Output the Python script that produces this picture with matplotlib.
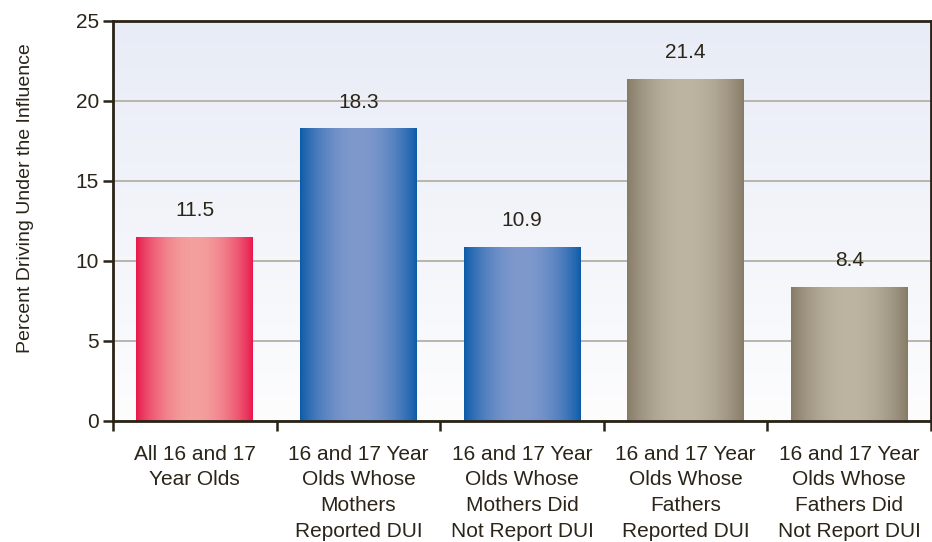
import numpy as np
import matplotlib.pyplot as plt
from matplotlib.colors import to_rgb

plt.rcParams['font.family'] = ['Liberation Sans', 'DejaVu Sans']

categories = [
    "All 16 and 17\nYear Olds",
    "16 and 17 Year\nOlds Whose\nMothers\nReported DUI",
    "16 and 17 Year\nOlds Whose\nMothers Did\nNot Report DUI",
    "16 and 17 Year\nOlds Whose\nFathers\nReported DUI",
    "16 and 17 Year\nOlds Whose\nFathers Did\nNot Report DUI",
]
values = [11.5, 18.3, 10.9, 21.4, 8.4]
value_labels = ["11.5", "18.3", "10.9", "21.4", "8.4"]
y_ticks = [0, 5, 10, 15, 20, 25]
y_label = "Percent Driving Under the Influence"

edge_colors = ["#e8164b", "#0a5aa9", "#0a5aa9", "#847a66", "#847a66"]
center_colors = ["#f4a09e", "#8099cd", "#8099cd", "#bdb4a2", "#bdb4a2"]

TEXT = "#2b2419"
SPINE = "#2a2216"

W, H = 932, 542
fig = plt.figure(figsize=(W / 100, H / 100), dpi=100)
ax = fig.add_axes([113 / W, 1 - 421 / H, (931 - 113) / W, 400 / H])

# background vertical gradient
top_c = np.array(to_rgb("#e8ecf6"))
bot_c = np.array(to_rgb("#fdfdfe"))
g = np.linspace(0, 1, 256)[:, None]
bg = top_c[None, :] * (1 - g) + bot_c[None, :] * g
bg = np.repeat(bg[:, None, :], 2, axis=1)
ax.imshow(bg, extent=[0, 1, 0, 1], transform=ax.transAxes, aspect='auto',
          zorder=0, interpolation='bilinear')

ax.set_xlim(-0.5, len(categories) - 0.5)
ax.set_ylim(0, 25)

ax.yaxis.grid(True, color="#bab5a9", linewidth=1.4, zorder=1)
ax.set_axisbelow(True)

bars = ax.bar(range(len(values)), values, width=0.715, color='none',
              edgecolor='none', zorder=2)

t = np.linspace(0, 1, 256)
prof = np.sin(np.pi * t) ** 0.8
for b, ec, cc in zip(bars, edge_colors, center_colors):
    e = np.array(to_rgb(ec)); c = np.array(to_rgb(cc))
    grad = e[None, :] * (1 - prof[:, None]) + c[None, :] * prof[:, None]
    img = np.repeat(grad[None, :, :], 2, axis=0)
    x0, y0 = b.get_x(), b.get_y()
    im = ax.imshow(img, extent=[x0, x0 + b.get_width(), y0, y0 + b.get_height()],
                   aspect='auto', zorder=3, interpolation='bilinear')
    im.set_clip_path(b)

for b, lab in zip(bars, value_labels):
    ax.annotate(lab, (b.get_x() + b.get_width() / 2, b.get_height()),
                xytext=(0, 12), textcoords='offset points', ha='center',
                va='bottom', fontsize=15, color=TEXT, zorder=5)

ax.set_xlim(-0.5, len(categories) - 0.5)
ax.set_ylim(0, 25)

for s in ax.spines.values():
    s.set_color(SPINE)
    s.set_linewidth(2.0)
    s.set_zorder(6)

ax.set_yticks(y_ticks)
ax.set_yticklabels([str(v) for v in y_ticks])
ax.tick_params(axis='y', direction='out', length=7, width=1.8, color=SPINE,
               labelsize=15, labelcolor=TEXT, pad=3)

ax.set_xticks(range(len(categories)))
ax.set_xticklabels(categories, linespacing=1.45)
ax.tick_params(axis='x', which='major', length=0, labelsize=15,
               labelcolor=TEXT, pad=17)
ax.set_xticks(np.arange(-0.5, len(categories), 1.0), minor=True)
ax.tick_params(axis='x', which='minor', direction='out', length=7,
               width=1.8, color=SPINE)

ax.set_ylabel(y_label, fontsize=14, color=TEXT)
ax.yaxis.set_label_coords(-0.097, 0.5575)

fig.savefig("out.png", dpi=100)
